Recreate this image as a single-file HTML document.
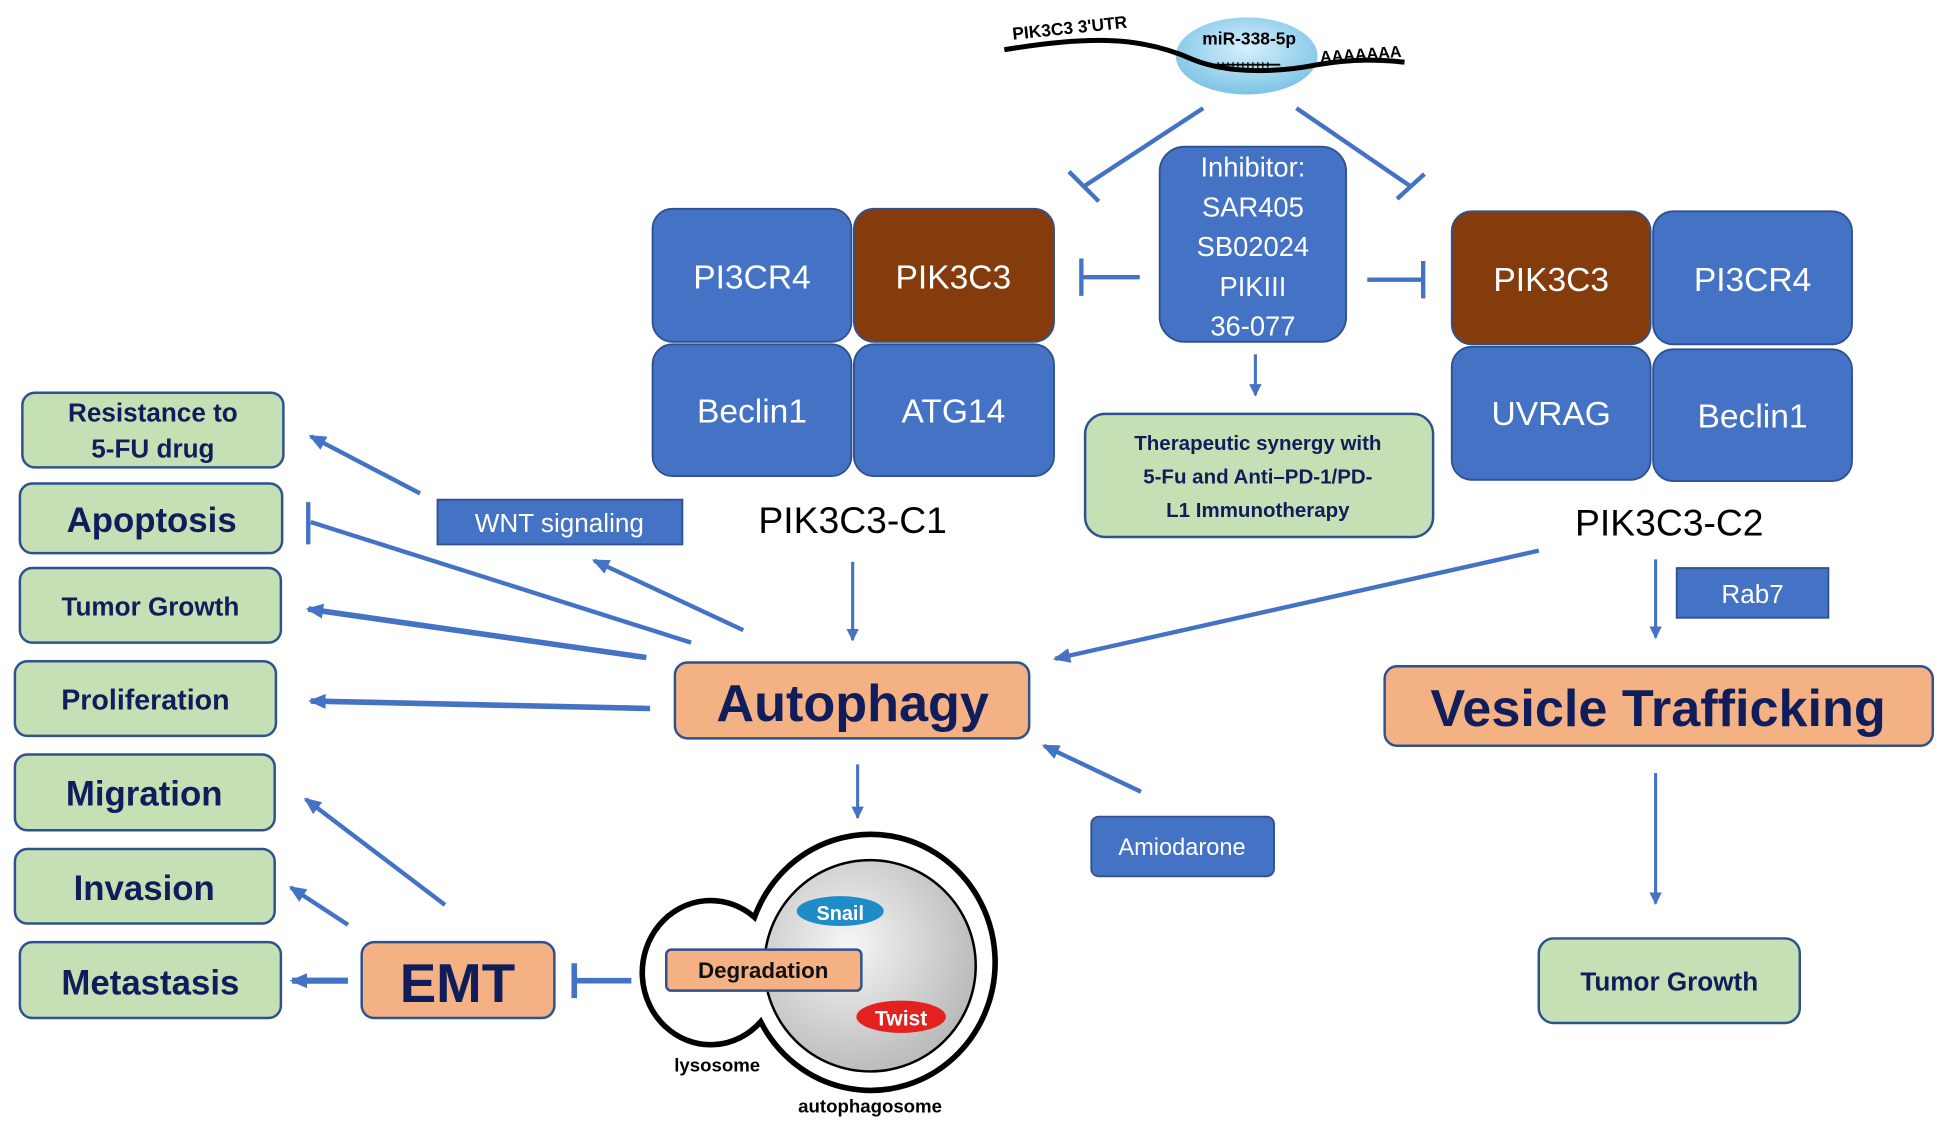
<!DOCTYPE html>
<html><head><meta charset="utf-8"><style>
html,body{margin:0;padding:0;background:#fff;}
svg{display:block;font-family:"Liberation Sans",sans-serif;}
.bl{fill:#4472C4;stroke:#2F528F;stroke-width:1.5}
.br{fill:#843C0C;stroke:#2F528F;stroke-width:1.5}
.gr{fill:#C5E0B4;stroke:#2F528F;stroke-width:2}
.or{fill:#F4B183;stroke:#2F528F;stroke-width:2}
.wt{fill:#fff;text-anchor:middle}
.nv{fill:#0F1E5A;text-anchor:middle;font-weight:bold}
.ln{stroke:#4472C4;stroke-width:3.5;fill:none}
</style></head><body>
<svg width="1939" height="1128" viewBox="0 0 1560 907.5" xmlns="http://www.w3.org/2000/svg">
<defs>
<marker id="a" markerWidth="14" markerHeight="12" refX="12" refY="6" orient="auto" markerUnits="userSpaceOnUse"><path d="M0,0 L14,6 L0,12 z" fill="#4472C4"/></marker>
<marker id="s" markerWidth="10" markerHeight="10" refX="9" refY="5" orient="auto" markerUnits="userSpaceOnUse"><path d="M0,0 L10,5 L0,10 z" fill="#4472C4"/></marker>
<radialGradient id="bub" cx="50%" cy="40%" r="60%"><stop offset="0" stop-color="#d8f0fb"/><stop offset="1" stop-color="#7cc3e6"/></radialGradient>
<radialGradient id="gy" cx="40%" cy="40%" r="65%"><stop offset="0" stop-color="#f6f6f6"/><stop offset="1" stop-color="#b8b8b8"/></radialGradient>
</defs>

<!-- RNA -->
<ellipse cx="1003" cy="45" rx="57" ry="31" fill="url(#bub)"/>
<path d="M808,40 C880,28 920,30 960,48 C990,60 1030,58 1060,52 C1090,47 1110,48 1130,50" stroke="#000" stroke-width="4" fill="none"/>
<path d="M975,52 h55" stroke="#000" stroke-width="1.5"/>
<path d="M980,50 v6 M984,50 v6 M988,50 v6 M992,50 v6 M996,50 v6 M1000,50 v6 M1004,50 v6 M1008,50 v6 M1012,50 v6 M1016,50 v6 M1020,50 v6" stroke="#000" stroke-width="1"/>
<text x="815" y="32" font-size="14" font-weight="bold" transform="rotate(-6 815 32)">PIK3C3 3'UTR</text>
<text x="1005" y="36" font-size="14" font-weight="bold" text-anchor="middle">miR-338-5p</text>
<text x="1095" y="48" font-size="13" font-weight="bold" text-anchor="middle" transform="rotate(-4 1095 48)">AAAAAAA</text>

<path class="ln" d="M968,87 L872,150"/><path class="ln" d="M860,138 L884,162"/>
<path class="ln" d="M1043,87 L1135,150"/><path class="ln" d="M1124,160 L1146,140"/>

<rect x="933" y="118" width="150" height="157" rx="20" class="bl"/>
<g class="wt" font-size="22"><text x="1008" y="142">Inhibitor:</text><text x="1008" y="174">SAR405</text><text x="1008" y="206">SB02024</text><text x="1008" y="238">PIKIII</text><text x="1008" y="270">36-077</text></g>
<path class="ln" d="M917,223 L870,223 M870,208 V238"/>
<path class="ln" d="M1100,225 L1145,225 M1145,210 V240"/>
<path class="ln" d="M1010,285 L1010,318" marker-end="url(#s)" style="stroke-width:2.5"/>

<rect x="525" y="168" width="160" height="107" rx="16" class="bl"/>
<rect x="687" y="168" width="161" height="107" rx="16" class="br"/>
<rect x="525" y="277" width="160" height="106" rx="16" class="bl"/>
<rect x="687" y="277" width="161" height="106" rx="16" class="bl"/>
<g class="wt" font-size="27"><text x="605" y="232">PI3CR4</text><text x="767" y="232">PIK3C3</text><text x="605" y="340">Beclin1</text><text x="767" y="340">ATG14</text></g>
<rect x="1168" y="170" width="160" height="107" rx="16" class="br"/>
<rect x="1330" y="170" width="160" height="107" rx="16" class="bl"/>
<rect x="1168" y="279" width="160" height="107" rx="16" class="bl"/>
<rect x="1330" y="281" width="160" height="106" rx="16" class="bl"/>
<g class="wt" font-size="27"><text x="1248" y="234">PIK3C3</text><text x="1410" y="234">PI3CR4</text><text x="1248" y="342">UVRAG</text><text x="1410" y="344">Beclin1</text></g>

<text x="686" y="429" font-size="30" text-anchor="middle">PIK3C3-C1</text>
<text x="1343" y="431" font-size="30" text-anchor="middle">PIK3C3-C2</text>

<rect x="873" y="333" width="280" height="99" rx="16" class="gr"/>
<g class="nv" font-size="16.5"><text x="1012" y="362">Therapeutic synergy with</text><text x="1012" y="389">5-Fu and  Anti–PD-1/PD-</text><text x="1012" y="416">L1 Immunotherapy</text></g>

<rect x="352" y="402" width="197" height="36" class="bl"/>
<text x="450" y="428" class="wt" font-size="21">WNT signaling</text>
<rect x="1349" y="457" width="122" height="40" class="bl"/>
<text x="1410" y="485" class="wt" font-size="21">Rab7</text>
<rect x="878" y="657" width="147" height="48" rx="6" class="bl"/>
<text x="951" y="688" class="wt" font-size="19">Amiodarone</text>

<rect x="18" y="316" width="210" height="60" rx="10" class="gr"/>
<g class="nv" font-size="21"><text x="123" y="339">Resistance to</text><text x="123" y="368">5-FU drug</text></g>
<rect x="16" y="389" width="211" height="56" rx="10" class="gr"/><text x="122" y="428" class="nv" font-size="28">Apoptosis</text>
<rect x="16" y="457" width="210" height="60" rx="10" class="gr"/><text x="121" y="495" class="nv" font-size="21">Tumor Growth</text>
<rect x="12" y="532" width="210" height="60" rx="10" class="gr"/><text x="117" y="571" class="nv" font-size="23">Proliferation</text>
<rect x="12" y="607" width="209" height="61" rx="10" class="gr"/><text x="116" y="648" class="nv" font-size="28">Migration</text>
<rect x="12" y="683" width="209" height="60" rx="10" class="gr"/><text x="116" y="724" class="nv" font-size="28">Invasion</text>
<rect x="16" y="758" width="210" height="61" rx="10" class="gr"/><text x="121" y="800" class="nv" font-size="28">Metastasis</text>

<rect x="543" y="533" width="285" height="61" rx="10" class="or"/><text x="686" y="580" class="nv" font-size="42">Autophagy</text>
<rect x="1114" y="536" width="441" height="64" rx="10" class="or"/><text x="1334" y="584" class="nv" font-size="42">Vesicle Trafficking</text>
<rect x="291" y="758" width="155" height="61" rx="10" class="or"/><text x="368" y="806" class="nv" font-size="44">EMT</text>
<rect x="1238" y="755" width="210" height="68" rx="12" class="gr"/><text x="1343" y="797" class="nv" font-size="21">Tumor Growth</text>

<g class="ln">
<path d="M338,397 L250,351" marker-end="url(#a)"/>
<path d="M556,517 L250,420 M248,404 V438"/>
<path d="M598,507 L478,451" marker-end="url(#a)"/>
<path d="M520,529 L248,490" marker-end="url(#a)" style="stroke-width:4.5"/>
<path d="M523,570 L250,564" marker-end="url(#a)" style="stroke-width:4.5"/>
<path d="M686,452 L686,515" marker-end="url(#s)" style="stroke-width:2.5"/>
<path d="M1238,443 L849,530" marker-end="url(#a)"/>
<path d="M1332,450 L1332,513" marker-end="url(#s)" style="stroke-width:2.5"/>
<path d="M690,615 L690,658" marker-end="url(#s)" style="stroke-width:2.5"/>
<path d="M918,637 L840,600" marker-end="url(#a)"/>
<path d="M1332,622 L1332,727" marker-end="url(#s)" style="stroke-width:2.5"/>
<path d="M358,728 L246,643" marker-end="url(#a)"/>
<path d="M280,744 L234,714" marker-end="url(#a)"/>
<path d="M280,789 L235,789" marker-end="url(#a)" style="stroke-width:5"/>
<path d="M508,789 L463,789 M462,775 V803" style="stroke-width:4.5"/>
</g>

<!-- autophagosome -->
<path d="M607,738 A100,103 0 1 1 612,822 A55,58 0 1 1 607,738 Z" fill="#fff" stroke="#000" stroke-width="4.5"/>
<circle cx="700" cy="777" r="85" fill="url(#gy)" stroke="#000" stroke-width="2"/>
<ellipse cx="676" cy="733" rx="35" ry="12" fill="#1E8CC8"/>
<text x="676" y="740" class="wt" font-size="16" font-weight="bold">Snail</text>
<ellipse cx="725" cy="818" rx="36" ry="13" fill="#E3211F"/>
<text x="725" y="825" class="wt" font-size="17" font-weight="bold">Twist</text>
<rect x="536" y="764" width="157" height="33" rx="4" class="or"/>
<text x="614" y="787" font-size="18" font-weight="bold" text-anchor="middle" fill="#111">Degradation</text>
<text x="577" y="862" font-size="15" font-weight="bold" text-anchor="middle">lysosome</text>
<text x="700" y="895" font-size="15" font-weight="bold" text-anchor="middle">autophagosome</text>
</svg>
</body></html>
